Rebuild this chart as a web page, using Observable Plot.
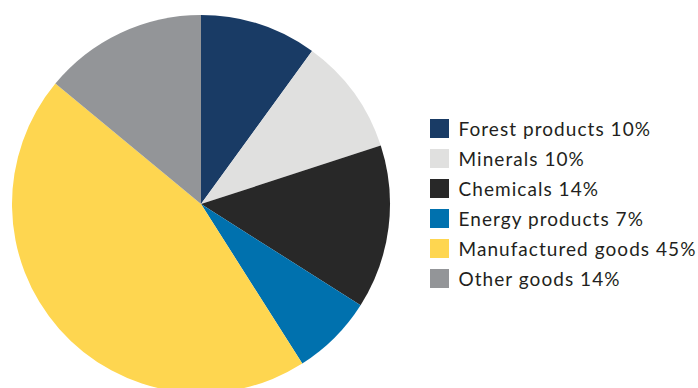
<!DOCTYPE html>
<html>
<head>
<meta charset="utf-8">
<script src="https://cdn.jsdelivr.net/npm/d3@7"></script>
<script src="https://cdn.jsdelivr.net/npm/@observablehq/plot@0.6"></script>
<style>
  html, body { margin: 0; padding: 0; background: #fff; }
  #chart { width: 698px; height: 388px; overflow: hidden; }
  #chart svg text { letter-spacing: 1.05px; }
</style>
</head>
<body>
<div id="chart"></div>
<script>
const categories = ["Forest products", "Minerals", "Chemicals", "Energy products", "Manufactured goods", "Other goods"];
const shares = [10, 10, 14, 7, 45, 14];
const colors = ["#193b65", "#e0e0df", "#282828", "#0071ae", "#fed650", "#939598"];

const data = categories.map((c, i) => ({category: c, share: shares[i], label: `${c} ${shares[i]}%`, i}));

const W = 698, H = 388;
const cx = 201, cy = 204, R = 189;

const color = Plot.scale({color: {type: "ordinal", domain: categories, range: colors}});

const pieMark = (index, scales, values, dimensions, context) => {
  const arcs = d3.pie().sort(null).value(d => d.share)(data);
  const arc = d3.arc().innerRadius(0).outerRadius(R);
  const g = d3.create("svg:g").attr("transform", `translate(${cx},${cy})`);
  g.selectAll("path").data(arcs).join("path")
    .attr("d", arc)
    .attr("fill", d => color.apply(d.data.category));
  return g.node();
};

const legendX = 430, legendY0 = 119, sw = 19, step = 30;

const plot = Plot.plot({
  width: W,
  height: H,
  margin: 0,
  x: {type: "identity", axis: null},
  y: {type: "identity", axis: null},
  style: {fontFamily: "Lato, sans-serif"},
  marks: [
    pieMark,
    Plot.rect(data, {
      x1: () => legendX, x2: () => legendX + sw,
      y1: d => legendY0 + d.i * step, y2: d => legendY0 + d.i * step + sw,
      fill: d => color.apply(d.category)
    }),
    Plot.text(data, {
      x: () => legendX + 28,
      y: d => legendY0 + d.i * step + sw / 2 + 1,
      text: "label",
      textAnchor: "start",
      fontSize: 19,
      fill: "#231f20"
    })
  ]
});
document.getElementById("chart").appendChild(plot);
</script>
</body>
</html>
